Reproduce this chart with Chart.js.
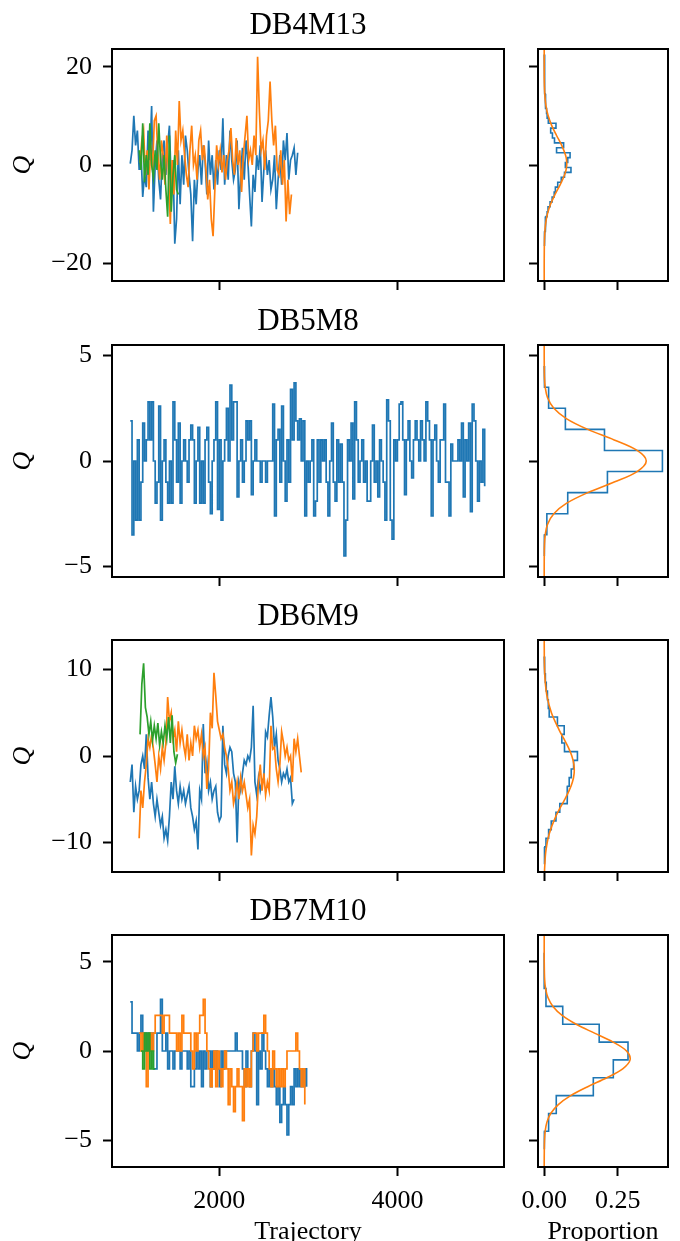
<!DOCTYPE html>
<html>
<head>
<meta charset="utf-8">
<script src="https://cdn.jsdelivr.net/npm/chart.js@4.4.1/dist/chart.umd.min.js"></script>
<style>
  html, body { margin: 0; padding: 0; background: #fff; overflow: hidden; }
  #fig { position: relative; width: 680px; height: 1241px; overflow: hidden; background: #fff; }
  #fig canvas { position: absolute; }
</style>
</head>
<body>
<div id="fig"></div>
<script>
// trajectory samples are every STEP steps, each chain from its own start index
const STEP = 20;
const trajTicks = [2000, 4000];
const propTicks = [0, 0.25];

// DB4M13
const db4BlueStart = 1000, db4OrangeStart = 1110, db4GreenStart = 1100;
const db4Blue = [0.3,3,10,4,7,-1,3,-6.5,-2,-4.5, 7,1,12,-9.5,0,5,-3,-7,2,5, -2,4,8,-4,1,-16,-11,3,-8,2,
  -4,6,3,-2,-6,-15.5,-3,-8,-1,2, -4,4,1,-6,5,-2,2,-5,1,-4, 3,-1,9.5,-4,2,-3,7,1,-3,-1,
  5,-9,-2,3.5,-3,5,1,-6,-12.5,-2, -5.5,2,-1,4,-7.5,-1,3,-2,1,-5, -3,2,-9,-3,2,-4,5,1,6.5,-3, 1,2,3.5,-2,2.5];
const db4Orange = [0.5,5,7,-2,3,-5,4,-1,9,10, 2,-3,5,2,-4,6,-2,-12,1,-6, 7,0,13,5,7,2,-2,-4.5,3,8,
  0,2,-3,5,7,1,4,-1,-7,-3, -11,-14.5,-5,4,0,3,-1.5,2,-3,1, 3,7.5,1,-2,5.5,0,3,-5.5,2,6,
  10,1,3,0,6,2,22,11,3,5, -1,6,9,17,9,4,8,-1,-2,3, -4,1,-11.5,-3,-10,-6];
const db4Green = [3,-1,8.5,-3.5,2,-2,8.5,0,-2.5,3,-1,8.5,1,-3,2,-5,-10.5,6,-9.5,-2,2,-5,-6];
const db4Bins = [22,21,20,19,18,17,16,15,14,13,12,11,10,9,8,7,6,5,4,3,2,1,0,-1,-2,-3,-4,-5,-6,-7,-8,-9,-10,-11,-12,-13,-14,-15,-16];
const db4Prop = [0.001,0.001,0.001,0.001,0.002,0.002,0.002,0.002,0.003,0.004,0.006,0.008,0.010,0.014,0.040,0.022,0.028,0.035,0.066,0.042,
  0.088,0.080,0.072,0.091,0.069,0.058,0.046,0.038,0.034,0.027,0.020,0.013,0.010,0.006,0.004,0.003,0.002,0.001,0.001];
const db4FitQ = [24,22,20,18,16,14,12,10,8,6,4,2,1,0,-1,-2,-4,-6,-8,-10,-12,-14,-16,-18,-20,-22,-24];
const db4Fit = [0,0,0.0001,0.0002,0.0008,0.0024,0.0061,0.0135,0.0256,0.042,0.0595,0.0727,0.076,0.0766,0.0743,0.0695,
  0.0545,0.0368,0.0214,0.0108,0.0047,0.0018,0.0006,0.0002,0,0,0];

// DB5M8
const db5BlueStart = 1000;
const db5Blue = [1.9,-3.5,0,-2.8,1,-2.8,-1,1.8,0,1, 2.8,1,2.8,0,-2,-1,2.6,-2.8,0,1, -1,-2,0,-2,2.8,1,-1,1.8,-2,0,
  1,0,-1,1,1.7,1,-2,0,1.6,-2, 0,-2,1,1.6,-1,-2.5,0,1,2.8,-2.3, 1,-2.8,0,1,2.5,0,3.6,1,2.8,2.8,
  -1.7,0,1,-1,0,1.9,1,1.9,-1.6,0, 1,0,0,-1,0,0,-1,0,0,0, 2.7,-2.6,1,1.5,-1,2.6,0,-1.9,1,-1,
  3.4,1,3.7,1.9,1,2,0,1.9,-2.6,0, -1,0,1,-2.6,-1.9,1,-1,1,0,1, -1,-2.6,0,1.8,-1,-1.9,1,-1,0.8,-1,
  -4.5,-2.8,1,0,1.8,-1.8,2.8,1,-1,0, 1,-1,0,-1.9,-1.9,0,1.7,-1,0,-1.7, 1,0,-1,-2.8,2.9,1.9,-2.8,-3.7,1,0,
  1,2.7,2.8,1,-1.6,1,1.9,0,-0.8,1, 1.9,1,0,1.9,1,0,2.8,1.9,1,-2.6, 1,1.7,0,-1,1,1,2.7,-1,-1,-2.6,
  0.8,0,0,0,1,0,1.8,-1.7,1,0, 1.8,-2.4,2.7,1.9,0,-1.9,0,-1,1.5,-1.2];
const db5Bins = [4,3,2,1,0,-1,-2,-3,-4];
const db5Prop = [0.001,0.015,0.072,0.205,0.402,0.215,0.080,0.009,0.001];
const db5FitQ = [5.5,5,4.5,4,3.5,3,2.5,2,1.5,1,0.5,0,-0.5,-1,-1.5,-2,-2.5,-3,-3.5,-4,-4.5,-5,-5.5];
const db5Fit = [0,0,0.0002,0.0008,0.0034,0.0115,0.0327,0.0765,0.148,0.238,0.316,0.347,0.316,0.238,0.148,0.0765,
  0.0327,0.0115,0.0034,0.0008,0.0002,0,0];

// DB6M9
const db6BlueStart = 1000, db6OrangeStart = 1100, db6GreenStart = 1110;
const db6Blue = [-3,-1,-6.5,-3.5,-5,-4,-1,0,-1.5,2.5, -2.5,-5,-3,-5.5,-7,-5,-6.5,-8,-7,-9.5,
  -8.5,-9.8,-7,-3,-5,-1.2,-4,-5.5,-3.5,-5, -4,-5.5,-4.5,-3.5,-6,-7,-8.5,-7.5,-10.8,-4,
  -5,3.7,-2,-0.7,-4,-3,-5,-4,-3.5,-6.5, -7.5,-7,3.5,-1,-2,0,1,0.5,-2,-3, -10,-3,-4,-2,-0.5,-1,0,-0.5,1,5.8,
  -3,-4.5,-2.5,-4,-3,-2.5,2.8,2.2,4.7,6.8, 4.5,1,2.5,-0.5,-1.5,-3,-2,-2.5,-1.5,-3, -2.5,-5.5,-5];
const db6Orange = [-9.5,-4,-6,-3,-1,2,1,2.4,0.8,-1, -3,0,-1.5,1,-0.5,1.5,6.8,4,5,2, 3,0.5,4,1.5,3,1.2,0,2.5,-0.5,1.5,
  0,3.5,2,3,1,2.5,0,1,-3.8,-1.5, 5,3.2,9.6,7,4,3,2,2.5,1,0, -1.5,-4,-3,-5.5,-4.5,-3,-5,-2.5,-4,-3,
  -4.5,-6,-5,-11.5,-8,-9,-7,-3,-1,-4, -2,-4.5,-3,-4,3.5,0.8,1,-1.5,-3,-1, 2.8,1.6,0,1,-0.5,0,-3,2,0.5,2, 0,-1.9];
const db6Green = [2.5,8.3,10.7,5.6,4.5,2.5,4,1.8,3.5,2,3.8,1.2,2.8,1.5,3.5,2,4.5,1.5,4.7,0.5,-0.8,0.2];
const db6Bins = [11,10,9,8,7,6,5,4,3,2,1,0,-1,-2,-3,-4,-5,-6,-7,-8,-9,-10,-11,-12];
const db6Prop = [0.001,0.002,0.004,0.007,0.011,0.014,0.017,0.045,0.068,0.060,0.069,0.113,0.100,0.092,0.085,0.079,
  0.078,0.053,0.040,0.024,0.015,0.006,0.002,0.001];
const db6FitQ = [13.5,13,11,9,7,5,3,2,1,0,-1,-2,-3,-4,-5,-7,-9,-11,-13,-13.5];
const db6Fit = [0.0001,0.0001,0.0006,0.0026,0.009,0.0245,0.051,0.0668,0.082,0.094,0.101,0.1018,0.096,0.0847,0.070,
  0.0392,0.0169,0.0056,0.0014,0.001];

// DB7M10
const db7BlueStart = 1000, db7OrangeStart = 1100, db7GreenStart = 1120;
const db7Blue = [2.75,1,1,1,0,1,2,0,1,0, 1,0,1,-1,-1,1,1,2.9,0,0, 1,-1,0,0,-1,0,0,0,-1,0, 0,0,-1,0,-2,-2,-1,0,-1,0,
  -2,0,-1,0,0,-2,0,-1,0,-1, -2,0,-1,0,0,0,0,0,0,1, 0,0,0,-1,-2,0,-1,-2,0,1, 0,-3,0,-1,1,0,-1,-2,-1,-2,
  -1,-2,-3,-2,-4,-3,-2,-3,-4.7,-3, -2,-3,-1,-2,-1,-2,-1,-2,-1,-2];
const db7Orange = [1,0,1,0,-2,0,1,0,1,2, 2,2,2,1,2,2,2,1,1,1, 1,0,1,0,2,1,1,1,1,0, -1,1,0,1,2,2,2.9,1,0,-1,
  -2,-1,0,-2,0,-1,-2,-1,0,-1, -3,-1,-2,-3.4,-2,-1,-2,-2,-3.9,-1, -2,-1,-2,0,1,1,0,1,1,1,
  2,1,0,-1,-2,0,-1,-2,-1,-2, -1,-2,-1,0,0,0,0,0,1,0, -1,-2,-1,-3];
const db7Green = [0,-1,1,0,1,-1,0,-1,-1];
const db7Bins = [5,4,3,2,1,0,-1,-2,-3,-4,-5];
const db7Prop = [0,0,0.006,0.063,0.187,0.285,0.235,0.167,0.041,0.015,0.001];
const db7FitQ = [6.5,6,5,4,3.5,3,2.5,2,1.5,1,0.5,0,-0.5,-1,-1.5,-2,-2.5,-3,-3.5,-4,-4.5,-5,-6,-6.5];
const db7Fit = [0,0,0.0001,0.0015,0.0047,0.0127,0.0297,0.061,0.109,0.171,0.234,0.280,0.292,0.267,0.213,0.148,
  0.090,0.048,0.022,0.009,0.0032,0.001,0.0001,0];

const BLUE = '#1f77b4', ORANGE = '#ff7f0e', GREEN = '#2ca02c';
const FONT = '"Liberation Serif", "Times New Roman", serif';

const panels = [
  {name: 'DB4M13', top: 49, lim: 23.6, yTicks: [-20, 0, 20], stepped: false,
   chains: [[db4Blue, db4BlueStart, BLUE], [db4Orange, db4OrangeStart, ORANGE], [db4Green, db4GreenStart, GREEN]],
   bins: db4Bins, prop: db4Prop, fitQ: db4FitQ, fit: db4Fit},
  {name: 'DB5M8', top: 345, lim: 5.5, yTicks: [-5, 0, 5], stepped: true,
   chains: [[db5Blue, db5BlueStart, BLUE]],
   bins: db5Bins, prop: db5Prop, fitQ: db5FitQ, fit: db5Fit},
  {name: 'DB6M9', top: 640, lim: 13.4, yTicks: [-10, 0, 10], stepped: false,
   chains: [[db6Blue, db6BlueStart, BLUE], [db6Orange, db6OrangeStart, ORANGE], [db6Green, db6GreenStart, GREEN]],
   bins: db6Bins, prop: db6Prop, fitQ: db6FitQ, fit: db6Fit},
  {name: 'DB7M10', top: 935, lim: 6.5, yTicks: [-5, 0, 5], stepped: true,
   chains: [[db7Blue, db7BlueStart, BLUE], [db7Orange, db7OrangeStart, ORANGE], [db7Green, db7GreenStart, GREEN]],
   bins: db7Bins, prop: db7Prop, fitQ: db7FitQ, fit: db7Fit}
];

const CANVAS_H = 370, PAD_TOP = 50, X_AXIS_H = 88;
const fig = document.getElementById('fig');

function addCanvas(left, top, width) {
  const c = document.createElement('canvas');
  c.width = width; c.height = CANVAS_H;
  c.style.left = left + 'px'; c.style.top = top + 'px';
  c.style.width = width + 'px'; c.style.height = CANVAS_H + 'px';
  fig.appendChild(c);
  return c;
}

function trace(values, start) {
  return values.map((q, i) => ({x: start + i * STEP, y: q}));
}

// step outline of a sideways histogram, bins one unit wide
function stepOutline(bins, prop) {
  const pts = [{x: 0, y: bins[0] + 0.5}];
  bins.forEach((c, i) => {
    pts.push({x: prop[i], y: c + 0.5}, {x: prop[i], y: c - 0.5});
  });
  pts.push({x: 0, y: bins[bins.length - 1] - 0.5});
  return pts;
}

function curve(q, p) {
  return q.map((v, i) => ({x: p[i], y: v}));
}

const minus = v => (v < 0 ? '\u2212' + (-v) : String(v));

// box around each axes, drawn over the lines like matplotlib spines
const panelFrame = {
  id: 'panelFrame',
  afterDatasetsDraw(chart) {
    const {ctx, chartArea: a} = chart;
    ctx.save();
    ctx.strokeStyle = '#000';
    ctx.lineWidth = 2;
    ctx.strokeRect(a.left, a.top, a.right - a.left, a.bottom - a.top);
    ctx.restore();
  }
};

const panelTitle = {
  id: 'panelTitle',
  afterDraw(chart, args, opts) {
    if (!opts.text) return;
    const {ctx, chartArea: a} = chart;
    ctx.save();
    ctx.font = '31px ' + FONT;
    ctx.fillStyle = '#000';
    ctx.textAlign = 'center';
    ctx.textBaseline = 'alphabetic';
    ctx.fillText(opts.text, (a.left + a.right) / 2, a.top - 15);
    ctx.restore();
  }
};

const tickFont = {family: FONT, size: 26};
const tickGrid = () => ({drawOnChartArea: false, drawTicks: true, tickLength: 9, tickWidth: 2, tickColor: '#000'});

function baseOptions(padRight, title) {
  return {
    responsive: false,
    animation: false,
    devicePixelRatio: 1,
    layout: {padding: {top: PAD_TOP, right: padRight, bottom: 0, left: 0}},
    plugins: {legend: {display: false}, tooltip: {enabled: false}, panelTitle: {text: title}},
    events: []
  };
}

panels.forEach((p, row) => {
  const last = row === panels.length - 1;

  // trace plot
  const mainOpts = baseOptions(16, p.name);
  mainOpts.scales = {
    x: {
      type: 'linear', position: 'bottom', min: 795, max: 5197,
      afterFit: s => { s.height = X_AXIS_H; },
      afterBuildTicks: s => { s.ticks = trajTicks.map(v => ({value: v})); },
      ticks: {display: last, font: tickFont, color: '#000', padding: 10, maxRotation: 0, autoSkip: false,
              callback: v => String(v)},
      grid: tickGrid(), border: {display: false},
      title: {display: last, text: 'Trajectory', font: tickFont, color: '#000', padding: {top: 0, bottom: 7}}
    },
    y: {
      type: 'linear', position: 'left', min: -p.lim, max: p.lim,
      afterFit: s => { s.width = 112; },
      afterBuildTicks: s => { s.ticks = p.yTicks.map(v => ({value: v})); },
      ticks: {font: tickFont, color: '#000', padding: 11, callback: minus},
      grid: tickGrid(), border: {display: false},
      title: {display: true, text: 'Q', font: {family: FONT, size: 26, style: 'italic'}, color: '#000',
              padding: {top: 8, bottom: 0}}
    }
  };
  new Chart(addCanvas(0, p.top - PAD_TOP, 520), {
    type: 'scatter',
    data: {
      datasets: p.chains.map(([vals, start, color], k) => ({
        data: trace(vals, start),
        showLine: true, stepped: p.stepped, fill: false,
        borderColor: color, borderWidth: 1.7, pointRadius: 0,
        order: 3 - k
      }))
    },
    options: mainOpts,
    plugins: [panelFrame, panelTitle]
  });

  // histogram with fitted normal curve
  const histOpts = baseOptions(12, '');
  histOpts.scales = {
    x: {
      type: 'linear', position: 'bottom', min: -0.0211, max: 0.421,
      afterFit: s => { s.height = X_AXIS_H; },
      afterBuildTicks: s => { s.ticks = propTicks.map(v => ({value: v})); },
      ticks: {display: last, font: tickFont, color: '#000', padding: 10, maxRotation: 0, autoSkip: false,
              callback: v => v.toFixed(2)},
      grid: tickGrid(), border: {display: false},
      title: {display: last, text: 'Proportion', font: tickFont, color: '#000', padding: {top: 0, bottom: 7}}
    },
    y: {
      type: 'linear', position: 'left', min: -p.lim, max: p.lim,
      afterFit: s => { s.width = 33; },
      afterBuildTicks: s => { s.ticks = p.yTicks.map(v => ({value: v})); },
      ticks: {display: false},
      grid: tickGrid(), border: {display: false}
    }
  };
  new Chart(addCanvas(505, p.top - PAD_TOP, 175), {
    type: 'scatter',
    data: {
      datasets: [
        {data: curve(p.fitQ, p.fit), showLine: true, tension: 0.35, borderColor: ORANGE, borderWidth: 1.6,
         pointRadius: 0, fill: false, order: 1},
        {data: stepOutline(p.bins, p.prop), showLine: true, borderColor: BLUE, borderWidth: 1.6,
         pointRadius: 0, fill: false, order: 2}
      ]
    },
    options: histOpts,
    plugins: [panelFrame]
  });
});
</script>
</body>
</html>
